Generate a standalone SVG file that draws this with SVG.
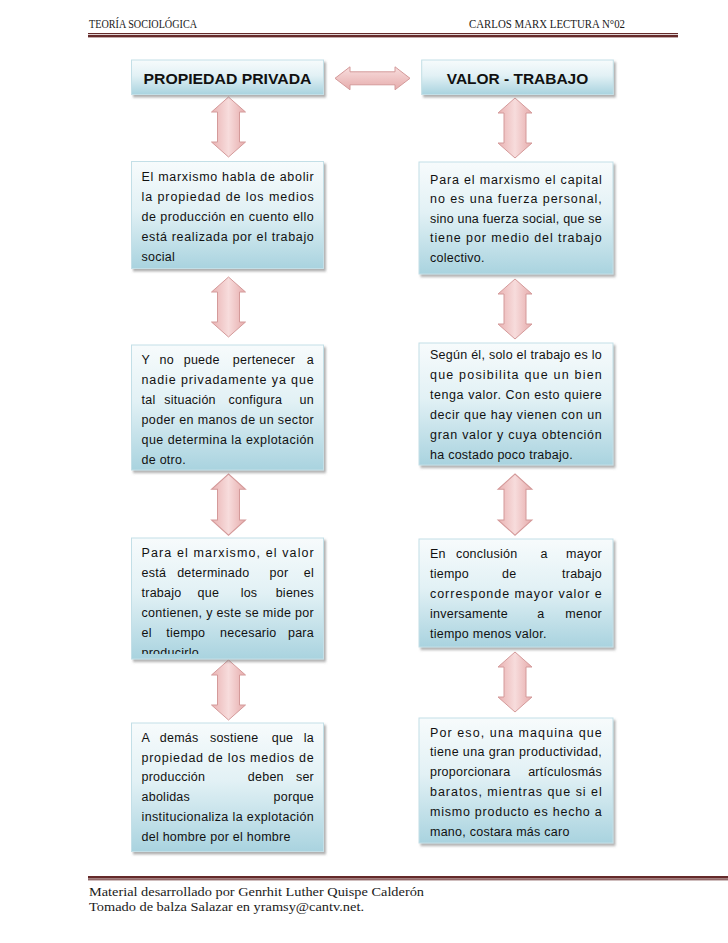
<svg xmlns="http://www.w3.org/2000/svg" width="728" height="943" viewBox="0 0 728 943">
<defs>
<style>
.hdr{font-family:"Liberation Serif","DejaVu Serif",serif;font-size:11.5px;fill:#1a1a1a}
.ftr{font-family:"Liberation Serif","DejaVu Serif",serif;font-size:13.5px;fill:#1a1a1a}
.box{fill:url(#gb);stroke:#c3dfe7;stroke-width:1;filter:url(#sh)}
.ttl{font-family:"Liberation Sans",Arial,sans-serif;font-size:15.5px;font-weight:bold;fill:#111;text-anchor:middle}
.tx{font-family:"Liberation Sans",Arial,sans-serif;font-size:12.5px;letter-spacing:0.25px;fill:#111}
.tm{text-anchor:middle}
.te{text-anchor:end}
.va{fill:url(#ga);stroke:#d49a9a;stroke-width:1}
.ha{fill:url(#gh);stroke:#d49a9a;stroke-width:1}
.rule{fill:#652a2a}
</style>
<linearGradient id="gb" x1="0" y1="0" x2="0" y2="1">
<stop offset="0" stop-color="#f7fbfc"/>
<stop offset="0.45" stop-color="#e2f1f5"/>
<stop offset="1" stop-color="#a9d3df"/>
</linearGradient>
<linearGradient id="ga" x1="0" y1="0" x2="1" y2="0">
<stop offset="0" stop-color="#e9b2b2"/>
<stop offset="0.5" stop-color="#f7dcdc"/>
<stop offset="1" stop-color="#e6abab"/>
</linearGradient>
<linearGradient id="gh" x1="0" y1="0" x2="0" y2="1">
<stop offset="0" stop-color="#f8dede"/>
<stop offset="1" stop-color="#e6acac"/>
</linearGradient>
<filter id="sh" x="-10%" y="-10%" width="125%" height="135%">
<feDropShadow dx="2" dy="2.5" stdDeviation="1.2" flood-color="#6f6f6f" flood-opacity="0.55"/>
</filter>
<clipPath id="clip4">
<rect x="130" y="530" width="200" height="124"/>
</clipPath>
<path id="varr" d="M0,0 L17,15 L11,15 L11,45 L17,45 L0,60 L-17,45 L-11,45 L-11,15 L-17,15 Z"/>
</defs>

<g id="header">
<text class="hdr" x="89" y="27.5" textLength="108" lengthAdjust="spacingAndGlyphs">TEORÍA SOCIOLÓGICA</text>
<text class="hdr" x="469" y="27.5" textLength="156" lengthAdjust="spacingAndGlyphs">CARLOS MARX LECTURA N°02</text>
<rect class="rule" x="88" y="33" width="590" height="1"/>
<rect class="rule" x="88" y="34.8" width="590" height="2.6"/>
</g>

<g id="connectors">
<path class="ha" d="M335,78.3 L350,66.8 L350,71.8 L395,71.8 L395,66.8 L410,78.3 L395,89.8 L395,84.8 L350,84.8 L350,89.8 Z"/>
<use href="#varr" class="va" transform="translate(228.5,97)"/>
<use href="#varr" class="va" transform="translate(515,98)"/>
<use href="#varr" class="va" transform="translate(228.5,277)"/>
<use href="#varr" class="va" transform="translate(515,279)"/>
<use href="#varr" class="va" transform="translate(228.5,474) scale(1,1.02)"/>
<use href="#varr" class="va" transform="translate(515,474) scale(1,1.02)"/>
<use href="#varr" class="va" transform="translate(228.5,660)"/>
<use href="#varr" class="va" transform="translate(515,652)"/>
</g>

<g id="title-left">
<rect class="box" x="131.5" y="60" width="192" height="34.5"/>
<text class="ttl" x="227.5" y="84.3" textLength="168" lengthAdjust="spacingAndGlyphs">PROPIEDAD PRIVADA</text>
</g>
<g id="title-right">
<rect class="box" x="421.7" y="60" width="191.6" height="34.5"/>
<text class="ttl" x="517.5" y="84.3" textLength="141.5" lengthAdjust="spacingAndGlyphs">VALOR - TRABAJO</text>
</g>

<g id="left-1">
<rect class="box" x="131.5" y="161.5" width="192" height="107"/>
<text class="tx" x="141.5" y="181" textLength="172.5" lengthAdjust="spacing">El marxismo habla de abolir</text>
<text class="tx" x="141.5" y="201" textLength="172.5" lengthAdjust="spacing">la propiedad de los medios</text>
<text class="tx" x="141.5" y="221" textLength="172.5" lengthAdjust="spacing">de producción en cuento ello</text>
<text class="tx" x="141.5" y="241" textLength="172.5" lengthAdjust="spacing">está realizada por el trabajo</text>
<text class="tx" x="141.5" y="261">social</text>
</g>

<g id="right-1">
<rect class="box" x="419" y="162" width="194" height="112"/>
<text class="tx" x="430" y="183.5" textLength="172" lengthAdjust="spacing">Para el marxismo el capital</text>
<text class="tx" x="430" y="203" textLength="172" lengthAdjust="spacing">no es una fuerza personal,</text>
<text class="tx" x="430" y="222.5" textLength="172" lengthAdjust="spacing">sino una fuerza social, que se</text>
<text class="tx" x="430" y="242" textLength="172" lengthAdjust="spacing">tiene por medio del trabajo</text>
<text class="tx" x="430" y="261.5">colectivo.</text>
</g>

<g id="left-2">
<rect class="box" x="131.5" y="345" width="192" height="125"/>
<text class="tx" x="141.5" y="364">Y</text>
<text class="tx tm" x="166.7" y="364">no</text>
<text class="tx tm" x="201.7" y="364">puede</text>
<text class="tx tm" x="264" y="364">pertenecer</text>
<text class="tx te" x="314" y="364">a</text>
<text class="tx" x="141.5" y="384" textLength="172.5" lengthAdjust="spacing">nadie privadamente ya que</text>
<text class="tx" x="141.5" y="404">tal</text>
<text class="tx tm" x="190" y="404">situación</text>
<text class="tx tm" x="255.3" y="404">configura</text>
<text class="tx te" x="314" y="404">un</text>
<text class="tx" x="141.5" y="424" textLength="172.5" lengthAdjust="spacing">poder en manos de un sector</text>
<text class="tx" x="141.5" y="444" textLength="172.5" lengthAdjust="spacing">que determina  la explotación</text>
<text class="tx" x="141.5" y="463.5">de otro.</text>
</g>

<g id="right-2">
<rect class="box" x="419" y="343" width="194" height="122"/>
<text class="tx" x="430" y="358.5" textLength="172" lengthAdjust="spacing">Según él, solo el trabajo es lo</text>
<text class="tx" x="430" y="378.5" textLength="172" lengthAdjust="spacing">que posibilita que un bien</text>
<text class="tx" x="430" y="398.5" textLength="172" lengthAdjust="spacing">tenga valor. Con esto quiere</text>
<text class="tx" x="430" y="418.5" textLength="172" lengthAdjust="spacing">decir que hay vienen con un</text>
<text class="tx" x="430" y="438.5" textLength="172" lengthAdjust="spacing">gran valor y cuya obtención</text>
<text class="tx" x="430" y="458.5">ha costado poco trabajo.</text>
</g>

<g id="left-3">
<rect class="box" x="131.5" y="538" width="192" height="121"/>
<text class="tx" x="141.5" y="556.7" textLength="172.5" lengthAdjust="spacing">Para el marxismo, el valor</text>
<text class="tx" x="141.5" y="576.7">está</text>
<text class="tx tm" x="213.3" y="576.7">determinado</text>
<text class="tx tm" x="279" y="576.7">por</text>
<text class="tx te" x="314" y="576.7">el</text>
<text class="tx" x="141.5" y="596.7">trabajo</text>
<text class="tx tm" x="208.3" y="596.7">que</text>
<text class="tx tm" x="249" y="596.7">los</text>
<text class="tx te" x="314" y="596.7">bienes</text>
<text class="tx" x="141.5" y="616.7" textLength="172.5" lengthAdjust="spacing">contienen, y este se mide por</text>
<text class="tx" x="141.5" y="636.7">el</text>
<text class="tx tm" x="185.8" y="636.7">tiempo</text>
<text class="tx tm" x="248.3" y="636.7">necesario</text>
<text class="tx te" x="314" y="636.7">para</text>
<text class="tx" x="141.5" y="656.7" clip-path="url(#clip4)">producirlo</text>
</g>

<g id="right-3">
<rect class="box" x="419" y="539" width="194" height="108"/>
<text class="tx" x="430" y="558.3">En</text>
<text class="tx tm" x="486.7" y="558.3">conclusión</text>
<text class="tx tm" x="544" y="558.3">a</text>
<text class="tx te" x="602" y="558.3">mayor</text>
<text class="tx" x="430" y="578.3">tiempo</text>
<text class="tx tm" x="509.2" y="578.3">de</text>
<text class="tx te" x="602" y="578.3">trabajo</text>
<text class="tx" x="430" y="598.3" textLength="172" lengthAdjust="spacing">corresponde mayor valor e</text>
<text class="tx" x="430" y="618.3">inversamente</text>
<text class="tx tm" x="540.8" y="618.3">a</text>
<text class="tx te" x="602" y="618.3">menor</text>
<text class="tx" x="430" y="638.3">tiempo menos valor.</text>
</g>

<g id="left-4">
<rect class="box" x="131.5" y="723" width="192" height="128.5"/>
<text class="tx" x="141.5" y="741.7">A</text>
<text class="tx tm" x="179.2" y="741.7">demás</text>
<text class="tx tm" x="234.2" y="741.7">sostiene</text>
<text class="tx tm" x="282.5" y="741.7">que</text>
<text class="tx te" x="314" y="741.7">la</text>
<text class="tx" x="141.5" y="761.5" textLength="172.5" lengthAdjust="spacing">propiedad de los medios de</text>
<text class="tx" x="141.5" y="781.3">producción</text>
<text class="tx tm" x="265.8" y="781.3">deben</text>
<text class="tx te" x="314" y="781.3">ser</text>
<text class="tx" x="141.5" y="801.1">abolidas</text>
<text class="tx te" x="314" y="801.1">porque</text>
<text class="tx" x="141.5" y="820.9" textLength="172.5" lengthAdjust="spacing">institucionaliza la explotación</text>
<text class="tx" x="141.5" y="840.7">del hombre por el hombre</text>
</g>

<g id="right-4">
<rect class="box" x="419" y="718" width="194" height="125"/>
<text class="tx" x="430" y="736.5" textLength="172" lengthAdjust="spacing">Por eso, una maquina que</text>
<text class="tx" x="430" y="756.4" textLength="172" lengthAdjust="spacing">tiene una gran productividad,</text>
<text class="tx" x="430" y="776.3">proporcionara</text>
<text class="tx te" x="602" y="776.3">artículosmás</text>
<text class="tx" x="430" y="796.2" textLength="172" lengthAdjust="spacing">baratos, mientras que si el</text>
<text class="tx" x="430" y="816.1" textLength="172" lengthAdjust="spacing">mismo producto es hecho a</text>
<text class="tx" x="430" y="836">mano, costara más caro</text>
</g>

<g id="footer">
<rect class="rule" x="88" y="876" width="640" height="2.6"/>
<rect class="rule" x="88" y="879.3" width="640" height="1"/>
<text class="ftr" x="89" y="895.5" textLength="335" lengthAdjust="spacingAndGlyphs">Material desarrollado por Genrhit Luther Quispe Calderón</text>
<text class="ftr" x="89" y="911" textLength="275" lengthAdjust="spacingAndGlyphs">Tomado de balza Salazar en yramsy@cantv.net.</text>
</g>
</svg>
